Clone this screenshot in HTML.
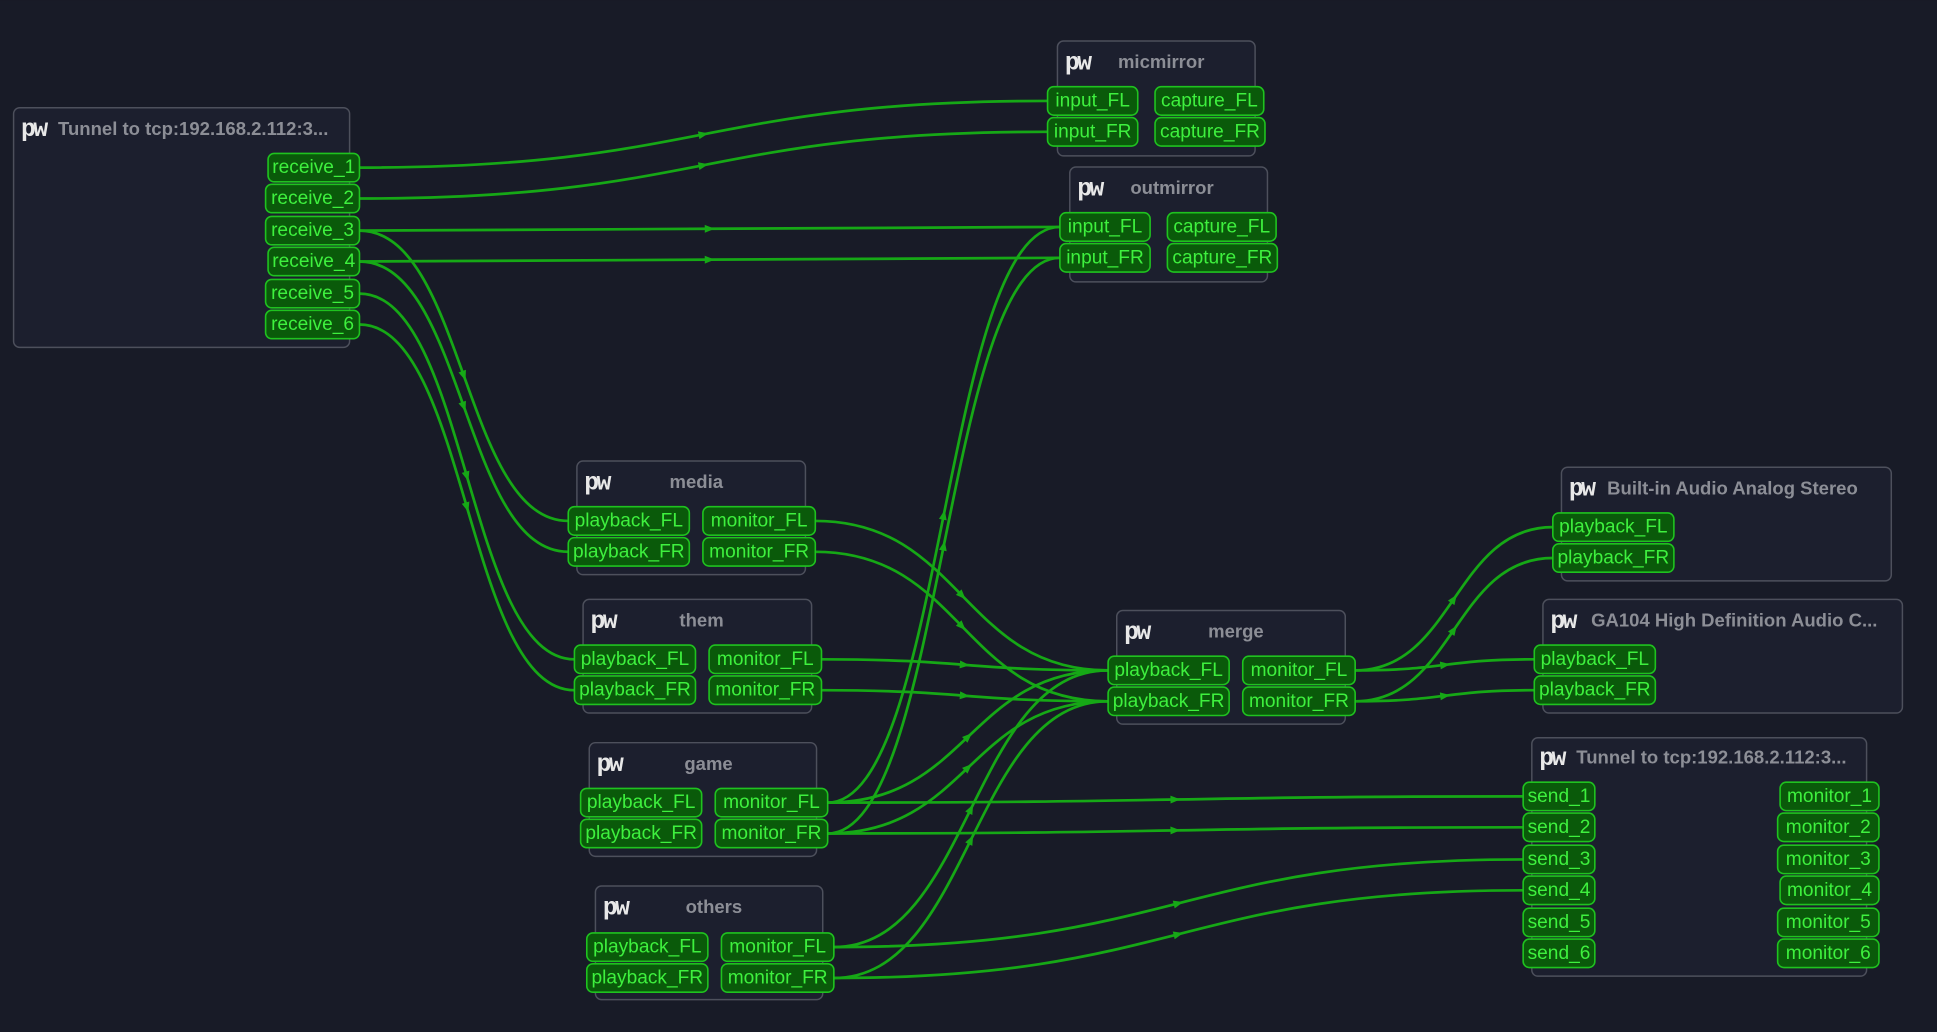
<!DOCTYPE html>
<html><head><meta charset="utf-8"><style>
html,body{margin:0;padding:0;background:#181b27;overflow:hidden}
svg{display:block}
.n{fill:#1c1f2e;stroke:#4d505c;stroke-width:1.2}
.t{fill:#8c8e96;font:bold 15px "Liberation Sans",sans-serif}
.pw{fill:#e8e8e8;font:bold 20px "Liberation Mono",monospace;letter-spacing:-2px}
.p{fill:#0a5a0a;stroke:#1fc21f;stroke-width:1.3}
.pt{fill:#3ef03e;font:15.5px "Liberation Sans",sans-serif;text-anchor:middle;dominant-baseline:central}
.c{fill:none;stroke:#16a816;stroke-width:2.2}
.a{fill:#16a816}
</style></head><body>
<svg id="s" width="1937" height="1032" viewBox="0 0 1568 835" xmlns="http://www.w3.org/2000/svg">
<rect width="1568" height="835" fill="#181b27"/>
<g id="cons">
<path class="c" d="M291 135.5 C570 135.5,569 81.5,848 81.5"/>
<path class="c" d="M291 160.5 C570 160.5,569 106.5,848 106.5"/>
<path class="c" d="M291 186.5 C575 186.5,574 183.5,858 183.5"/>
<path class="c" d="M291 211.5 C575 211.5,574 208.5,858 208.5"/>
<path class="c" d="M291 186.5 C376 186.5,375 421.5,460 421.5"/>
<path class="c" d="M291 211.5 C376 211.5,375 446.5,460 446.5"/>
<path class="c" d="M291 237.5 C378 237.5,378 533.5,465 533.5"/>
<path class="c" d="M291 262.5 C378 262.5,378 558.5,465 558.5"/>
<path class="c" d="M660 421.5 C779 421.5,779 542.5,897 542.5"/>
<path class="c" d="M660 446.5 C779 446.5,779 567.5,897 567.5"/>
<path class="c" d="M665 533.5 C781 533.5,781 542.5,897 542.5"/>
<path class="c" d="M665 558.5 C781 558.5,781 567.5,897 567.5"/>
<path class="c" d="M670 649.5 C784 649.5,784 542.5,897 542.5"/>
<path class="c" d="M670 674.5 C784 674.5,784 567.5,897 567.5"/>
<path class="c" d="M670 649.5 C764 649.5,764 183.5,858 183.5"/>
<path class="c" d="M670 674.5 C764 674.5,764 208.5,858 208.5"/>
<path class="c" d="M675 766.5 C786 766.5,786 542.5,897 542.5"/>
<path class="c" d="M675 791.5 C786 791.5,786 567.5,897 567.5"/>
<path class="c" d="M670 649.5 C951 649.5,952 644.5,1233 644.5"/>
<path class="c" d="M670 674.5 C951 674.5,952 669.5,1233 669.5"/>
<path class="c" d="M675 766.5 C954 766.5,954 695.5,1233 695.5"/>
<path class="c" d="M675 791.5 C954 791.5,954 720.5,1233 720.5"/>
<path class="c" d="M1097 542.5 C1177 542.5,1177 426.5,1257 426.5"/>
<path class="c" d="M1097 567.5 C1177 567.5,1177 451.5,1257 451.5"/>
<path class="c" d="M1097 542.5 C1170 542.5,1170 533.5,1242 533.5"/>
<path class="c" d="M1097 567.5 C1170 567.5,1170 558.5,1242 558.5"/>
</g>
<g id="arr"></g>

<rect class="n" x="11" y="87" width="272" height="194" rx="5"/>
<text class="pw" x="17" y="110">pw</text><text class="t" x="47" y="109">Tunnel to tcp:192.168.2.112:3...</text>
<rect class="p" x="217" y="124" width="74" height="23" rx="5"/><text class="pt" x="254" y="135.5">receive_1</text>
<rect class="p" x="215" y="149" width="76" height="23" rx="5"/><text class="pt" x="253" y="160.5">receive_2</text>
<rect class="p" x="215" y="175" width="76" height="23" rx="5"/><text class="pt" x="253" y="186.5">receive_3</text>
<rect class="p" x="217" y="200" width="74" height="23" rx="5"/><text class="pt" x="254" y="211.5">receive_4</text>
<rect class="p" x="215" y="226" width="76" height="23" rx="5"/><text class="pt" x="253" y="237.5">receive_5</text>
<rect class="p" x="215" y="251" width="76" height="23" rx="5"/><text class="pt" x="253" y="262.5">receive_6</text>

<rect class="n" x="856" y="33" width="160" height="93" rx="5"/>
<text class="pw" x="862" y="56">pw</text><text class="t" x="905" y="55">micmirror</text>
<rect class="p" x="848" y="70" width="73" height="23" rx="5"/><text class="pt" x="884.5" y="81.5">input_FL</text>
<rect class="p" x="848" y="95" width="73" height="23" rx="5"/><text class="pt" x="884.5" y="106.5">input_FR</text>
<rect class="p" x="935" y="70" width="88" height="23" rx="5"/><text class="pt" x="979" y="81.5">capture_FL</text>
<rect class="p" x="935" y="95" width="89" height="23" rx="5"/><text class="pt" x="979.5" y="106.5">capture_FR</text>

<rect class="n" x="866" y="135" width="160" height="93" rx="5"/>
<text class="pw" x="872" y="158">pw</text><text class="t" x="915" y="157">outmirror</text>
<rect class="p" x="858" y="172" width="73" height="23" rx="5"/><text class="pt" x="894.5" y="183.5">input_FL</text>
<rect class="p" x="858" y="197" width="73" height="23" rx="5"/><text class="pt" x="894.5" y="208.5">input_FR</text>
<rect class="p" x="945" y="172" width="88" height="23" rx="5"/><text class="pt" x="989" y="183.5">capture_FL</text>
<rect class="p" x="945" y="197" width="89" height="23" rx="5"/><text class="pt" x="989.5" y="208.5">capture_FR</text>

<rect class="n" x="467" y="373" width="185" height="92" rx="5"/>
<text class="pw" x="473" y="396">pw</text><text class="t" x="542" y="395">media</text>
<rect class="p" x="460" y="410" width="98" height="23" rx="5"/><text class="pt" x="509" y="421.5">playback_FL</text>
<rect class="p" x="460" y="435" width="98" height="23" rx="5"/><text class="pt" x="509" y="446.5">playback_FR</text>
<rect class="p" x="569" y="410" width="91" height="23" rx="5"/><text class="pt" x="614.5" y="421.5">monitor_FL</text>
<rect class="p" x="569" y="435" width="91" height="23" rx="5"/><text class="pt" x="614.5" y="446.5">monitor_FR</text>

<rect class="n" x="472" y="485" width="185" height="92" rx="5"/>
<text class="pw" x="478" y="508">pw</text><text class="t" x="550" y="507">them</text>
<rect class="p" x="465" y="522" width="98" height="23" rx="5"/><text class="pt" x="514" y="533.5">playback_FL</text>
<rect class="p" x="465" y="547" width="98" height="23" rx="5"/><text class="pt" x="514" y="558.5">playback_FR</text>
<rect class="p" x="574" y="522" width="91" height="23" rx="5"/><text class="pt" x="619.5" y="533.5">monitor_FL</text>
<rect class="p" x="574" y="547" width="91" height="23" rx="5"/><text class="pt" x="619.5" y="558.5">monitor_FR</text>

<rect class="n" x="477" y="601" width="184" height="92" rx="5"/>
<text class="pw" x="483" y="624">pw</text><text class="t" x="554" y="623">game</text>
<rect class="p" x="470" y="638" width="98" height="23" rx="5"/><text class="pt" x="519" y="649.5">playback_FL</text>
<rect class="p" x="470" y="663" width="98" height="23" rx="5"/><text class="pt" x="519" y="674.5">playback_FR</text>
<rect class="p" x="579" y="638" width="91" height="23" rx="5"/><text class="pt" x="624.5" y="649.5">monitor_FL</text>
<rect class="p" x="579" y="663" width="91" height="23" rx="5"/><text class="pt" x="624.5" y="674.5">monitor_FR</text>

<rect class="n" x="482" y="717" width="184" height="92" rx="5"/>
<text class="pw" x="488" y="740">pw</text><text class="t" x="555" y="739">others</text>
<rect class="p" x="475" y="755" width="98" height="23" rx="5"/><text class="pt" x="524" y="766.5">playback_FL</text>
<rect class="p" x="475" y="780" width="98" height="23" rx="5"/><text class="pt" x="524" y="791.5">playback_FR</text>
<rect class="p" x="584" y="755" width="91" height="23" rx="5"/><text class="pt" x="629.5" y="766.5">monitor_FL</text>
<rect class="p" x="584" y="780" width="91" height="23" rx="5"/><text class="pt" x="629.5" y="791.5">monitor_FR</text>

<rect class="n" x="904" y="494" width="185" height="92" rx="5"/>
<text class="pw" x="910" y="517">pw</text><text class="t" x="978" y="516">merge</text>
<rect class="p" x="897" y="531" width="98" height="23" rx="5"/><text class="pt" x="946" y="542.5">playback_FL</text>
<rect class="p" x="897" y="556" width="98" height="23" rx="5"/><text class="pt" x="946" y="567.5">playback_FR</text>
<rect class="p" x="1006" y="531" width="91" height="23" rx="5"/><text class="pt" x="1051.5" y="542.5">monitor_FL</text>
<rect class="p" x="1006" y="556" width="91" height="23" rx="5"/><text class="pt" x="1051.5" y="567.5">monitor_FR</text>

<rect class="n" x="1264" y="378" width="267" height="92" rx="5"/>
<text class="pw" x="1270" y="401">pw</text><text class="t" x="1301" y="400">Built-in Audio Analog Stereo</text>
<rect class="p" x="1257" y="415" width="98" height="23" rx="5"/><text class="pt" x="1306" y="426.5">playback_FL</text>
<rect class="p" x="1257" y="440" width="98" height="23" rx="5"/><text class="pt" x="1306" y="451.5">playback_FR</text>

<rect class="n" x="1249" y="485" width="291" height="92" rx="5"/>
<text class="pw" x="1255" y="508">pw</text><text class="t" x="1288" y="507">GA104 High Definition Audio C...</text>
<rect class="p" x="1242" y="522" width="98" height="23" rx="5"/><text class="pt" x="1291" y="533.5">playback_FL</text>
<rect class="p" x="1242" y="547" width="98" height="23" rx="5"/><text class="pt" x="1291" y="558.5">playback_FR</text>

<rect class="n" x="1240" y="597" width="271" height="193" rx="5"/>
<text class="pw" x="1246" y="619">pw</text><text class="t" x="1276" y="618">Tunnel to tcp:192.168.2.112:3...</text>
<rect class="p" x="1233" y="633" width="58" height="23" rx="5"/><text class="pt" x="1262" y="644.5">send_1</text>
<rect class="p" x="1233" y="658" width="58" height="23" rx="5"/><text class="pt" x="1262" y="669.5">send_2</text>
<rect class="p" x="1233" y="684" width="58" height="23" rx="5"/><text class="pt" x="1262" y="695.5">send_3</text>
<rect class="p" x="1233" y="709" width="58" height="23" rx="5"/><text class="pt" x="1262" y="720.5">send_4</text>
<rect class="p" x="1233" y="735" width="58" height="23" rx="5"/><text class="pt" x="1262" y="746.5">send_5</text>
<rect class="p" x="1233" y="760" width="58" height="23" rx="5"/><text class="pt" x="1262" y="771.5">send_6</text>
<rect class="p" x="1441" y="633" width="80" height="23" rx="5"/><text class="pt" x="1481" y="644.5">monitor_1</text>
<rect class="p" x="1439" y="658" width="82" height="23" rx="5"/><text class="pt" x="1480" y="669.5">monitor_2</text>
<rect class="p" x="1439" y="684" width="82" height="23" rx="5"/><text class="pt" x="1480" y="695.5">monitor_3</text>
<rect class="p" x="1441" y="709" width="80" height="23" rx="5"/><text class="pt" x="1481" y="720.5">monitor_4</text>
<rect class="p" x="1439" y="735" width="82" height="23" rx="5"/><text class="pt" x="1480" y="746.5">monitor_5</text>
<rect class="p" x="1439" y="760" width="82" height="23" rx="5"/><text class="pt" x="1480" y="771.5">monitor_6</text>
</svg>
<script>
(function(){
var ns="http://www.w3.org/2000/svg",g=document.getElementById("arr");
var ps=document.querySelectorAll("#cons path");
for(var i=0;i<ps.length;i++){
 var n=ps[i].getAttribute("d").match(/-?[\d.]+/g).map(Number);
 var x0=n[0],y0=n[1],x1=n[2],y1=n[3],x2=n[4],y2=n[5],x3=n[6],y3=n[7];
 var mx=(x0+3*x1+3*x2+x3)/8,my=(y0+3*y1+3*y2+y3)/8;
 var dx=(x3+x2-x1-x0),dy=(y3+y2-y1-y0);
 var a=Math.atan2(dy,dx)*180/Math.PI;
 var p=document.createElementNS(ns,"polygon");
 p.setAttribute("points","4,0 -4,-3.2 -4,3.2");
 p.setAttribute("class","a");
 p.setAttribute("transform","translate("+mx+","+my+") rotate("+a+")");
 g.appendChild(p);
}
})();
</script>
</body></html>
